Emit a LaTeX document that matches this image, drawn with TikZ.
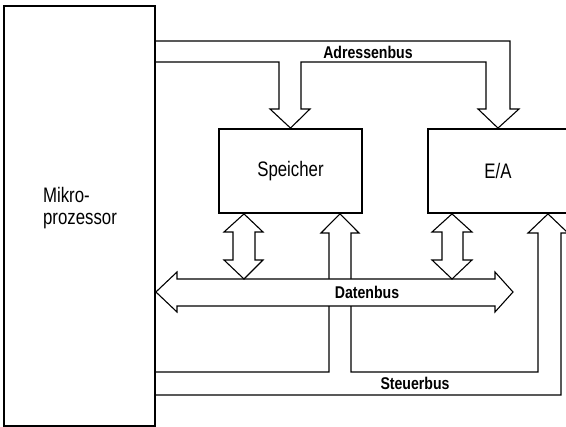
\documentclass[tikz,border=0pt]{standalone}
\usepackage{fontspec}
\newfontfamily\blockfont[FakeStretch=0.8]{Liberation Sans}
\newfontfamily\busfont[FakeStretch=0.83]{Liberation Sans}
\usetikzlibrary{positioning,calc}

\tikzset{
  block/.style={draw,line width=1.8pt,font=\blockfont\fontsize{21}{22}\selectfont},
  bus/.style={draw,line width=1.1pt,line join=miter},
  buslabel/.style={font=\busfont\bfseries\fontsize{17}{18}\selectfont}
}

\begin{document}
\begin{tikzpicture}[x=1pt,y=-1pt]
  \useasboundingbox (0,0) rectangle (566,427);
  \clip (0,0) rectangle (566,427);

  % blocks
  \node[block,minimum width=151pt,minimum height=420pt] (mp) at (79.5,216) {};
  \node[font=\blockfont\fontsize{21}{22}\selectfont,align=left] (mptext) at (80,208) {Mikro-\\prozessor};
  \node[block,minimum width=143pt,minimum height=84pt] (sp) at (290.5,171) {Speicher};
  \node[block,minimum width=140pt,minimum height=84pt] (ea) at (498,171) {E/A};

  % address bus
  \draw[bus] (mp.east |- 0,41) -- (510,41) -- (510,109) -- (519,109) -- (ea.north)
    -- (478,109) -- (486,109) -- (486,62) -- (301,62) -- (301,109) -- (310,109)
    -- (sp.north) -- (270,109) -- (279,109) -- (279,62) -- (mp.east |- 0,62);
  \node[buslabel] (adr) at (368,52) {Adressenbus};

  % control bus (runs under the data bus)
  \draw[bus] (mp.east |- 0,372) -- (329,372) -- (329,233) -- (321,233) -- (sp.south -| 340,0)
    -- (359,233) -- (351,233) -- (351,372) -- (538,372) -- (538,233) -- (528,233)
    -- (ea.south -| 548,0) -- (568,233) -- (561,233) -- (561,395) -- (mp.east |- 0,395);
  \node[buslabel] (ctl) at (415,383) {Steuerbus};

  % data bus
  \draw[bus,fill=white] (mp.east |- 0,292) -- (177,272) -- (177,279) -- (495,279) -- (495,272)
    -- (513,292) -- (495,312) -- (495,306) -- (177,306) -- (177,312) -- cycle;
  \node[buslabel] (dat) at (367,292) {Datenbus};

  % memory and I/O to data bus
  \draw[bus] (sp.south -| 244,0) -- (263,232) -- (255,232) -- (255,260) -- (263,260)
    -- (244,279) -- (224,260) -- (233,260) -- (233,232) -- (224,232) -- cycle;
  \draw[bus] (ea.south -| 452,0) -- (472,232) -- (463,232) -- (463,260) -- (472,260)
    -- (452,279) -- (432,260) -- (442,260) -- (442,232) -- (432,232) -- cycle;
\end{tikzpicture}
\end{document}
